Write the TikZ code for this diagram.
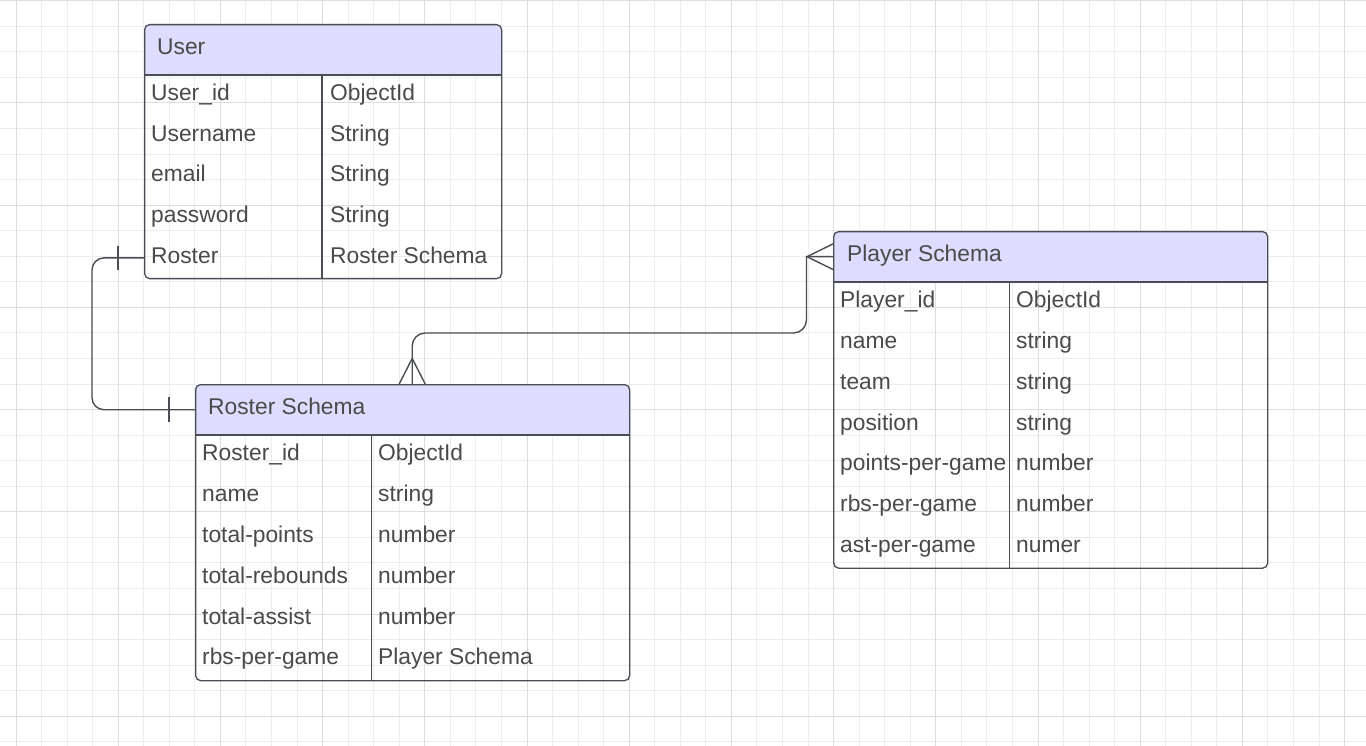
\documentclass[tikz,border=0pt]{standalone}
\usepackage{fontspec}
\setmainfont{Liberation Sans}
\usetikzlibrary{calc}
\definecolor{gridminor}{HTML}{EDEDED}
\definecolor{gridmajor}{HTML}{DDDDDD}
\definecolor{edgecol}{HTML}{4B4D55}
\definecolor{txtcol}{HTML}{4A4A4A}
\definecolor{hdrcol}{HTML}{DFDDFF}
\begin{document}
\begin{tikzpicture}[x=1pt,y=-1pt,
  tbl/.style={draw=edgecol, line width=1.3pt, rounded corners=5pt, inner sep=0pt, anchor=north west},
  hdrbox/.style={inner sep=0pt, anchor=north west},
  rowbox/.style={inner sep=0pt, anchor=north west},
  lbl/.style={text=txtcol, font=\fontsize{22.8}{25}\selectfont, inner sep=0pt, anchor=base west},
  sepline/.style={draw=edgecol, line width=1.3pt},
  conn/.style={draw=edgecol, line width=1.4pt},
  gmin/.style={draw=gridminor, line width=1pt},
  gmaj/.style={draw=gridmajor, line width=1pt}]
\useasboundingbox (0,0) rectangle (1366,746);
\fill[white] (0,0) rectangle (1366,746);
% grid
\foreach \i in {0,...,53} {\pgfmathsetmacro\xx{16+25.55*\i}\draw[gmin] (\xx,0) -- (\xx,746);}
\foreach \j in {0,...,29} {\pgfmathsetmacro\yy{0.8+25.55*\j}\draw[gmin] (0,\yy) -- (1366,\yy);}
\foreach \i in {0,...,13} {\pgfmathsetmacro\xx{16+102.2*\i}\draw[gmaj] (\xx,0) -- (\xx,746);}
\foreach \j in {0,...,7} {\pgfmathsetmacro\yy{0.8+102.2*\j}\draw[gmaj] (0,\yy) -- (1366,\yy);}

% ---------- User table ----------
\fill[hdrcol] (144,75) [rounded corners=5pt] -- (144,24) -- (501,24) [sharp corners] -- (501,75) -- cycle;
\node[hdrbox, minimum width=357pt, minimum height=51pt] (userH) at (144,24) {};
\node[tbl, minimum width=357pt, minimum height=254pt] (user) at (144,24) {};
\draw[sepline] (144,75) -- (501,75);
\draw[sepline] (322,75) -- (322,278);
\node[lbl] (userT) at (157,54.5) {User};
\foreach \n/\a/\b [count=\k from 0] in {uid/User\_id/ObjectId, uname/Username/String, uemail/email/String, upass/password/String, uRoster/Roster/Roster Schema} {
  \pgfmathsetmacro\yt{75+40.6*\k}
  \node[rowbox, minimum width=357pt, minimum height=40.6pt] (\n) at (144,\yt) {};
  \node[lbl] (\n a) at (151,\yt+25.8) {\a};
  \node[lbl] (\n b) at (330,\yt+25.8) {\b};
}

% ---------- Roster Schema table ----------
\fill[hdrcol] (195,435) [rounded corners=5pt] -- (195,384) -- (629,384) [sharp corners] -- (629,435) -- cycle;
\node[hdrbox, minimum width=434pt, minimum height=51pt] (rosterH) at (195,384) {};
\node[tbl, minimum width=434pt, minimum height=296pt] (roster) at (195,384) {};
\draw[sepline] (195,435) -- (629,435);
\draw[sepline] (371.3,435) -- (371.3,680);
\node[lbl] (rosterT) at (208,414.5) {Roster Schema};
\foreach \n/\a/\b [count=\k from 0] in {rid/Roster\_id/ObjectId, rname/name/string, rtp/total-points/number, rtr/total-rebounds/number, rta/total-assist/number, rrbs/rbs-per-game/Player Schema} {
  \pgfmathsetmacro\yt{435+40.83*\k}
  \node[rowbox, minimum width=434pt, minimum height=40.8pt] (\n) at (195,\yt) {};
  \node[lbl] (\n a) at (202,\yt+25.8) {\a};
  \node[lbl] (\n b) at (378,\yt+25.8) {\b};
}

% ---------- Player Schema table ----------
\fill[hdrcol] (833,282) [rounded corners=5pt] -- (833,231) -- (1267,231) [sharp corners] -- (1267,282) -- cycle;
\node[hdrbox, minimum width=434pt, minimum height=51pt] (playerH) at (833,231) {};
\node[tbl, minimum width=434pt, minimum height=336.5pt] (player) at (833,231) {};
\draw[sepline] (833,282) -- (1267,282);
\draw[sepline] (1009.5,282) -- (1009.5,567.5);
\node[lbl] (playerT) at (847,261.5) {Player Schema};
\foreach \n/\a/\b [count=\k from 0] in {pid/Player\_id/ObjectId, pname/name/string, pteam/team/string, ppos/position/string, pppg/points-per-game/number, prpg/rbs-per-game/number, papg/ast-per-game/numer} {
  \pgfmathsetmacro\yt{282+40.79*\k}
  \node[rowbox, minimum width=434pt, minimum height=40.8pt] (\n) at (833,\yt) {};
  \node[lbl] (\n a) at (840,\yt+25.8) {\a};
  \node[lbl] (\n b) at (1016,\yt+25.8) {\b};
}

% ---------- Connector User.Roster -> Roster Schema (one to one) ----------
\coordinate (c1) at (92,0);
\draw[conn, rounded corners=12pt] (uRoster.west) -- (c1 |- uRoster.west) -- (c1 |- rosterH.west) -- (rosterH.west);
\draw[conn] ($(uRoster.west)+(-26,-12)$) -- ($(uRoster.west)+(-26,12)$);
\draw[conn] ($(rosterH.west)+(-26,-12.5)$) -- ($(rosterH.west)+(-26,12.5)$);

% ---------- Connector Roster Schema -> Player Schema (many to many) ----------
\coordinate (c2) at (0,333);
\coordinate (c3) at (806.5,0);
\draw[conn, rounded corners=13pt] (rosterH.north) -- (rosterH.north |- c2) -- (c3 |- c2) [sharp corners] -- (c3 |- playerH.west) -- (playerH.west);
\draw[conn] ($(rosterH.north)+(-13,0)$) -- ($(rosterH.north)+(0,-25.5)$) -- ($(rosterH.north)+(13,0)$);
\draw[conn] ($(playerH.west)+(0,-12.8)$) -- ($(playerH.west)+(-26,0)$) -- ($(playerH.west)+(0,12.8)$);
\end{tikzpicture}
\end{document}
